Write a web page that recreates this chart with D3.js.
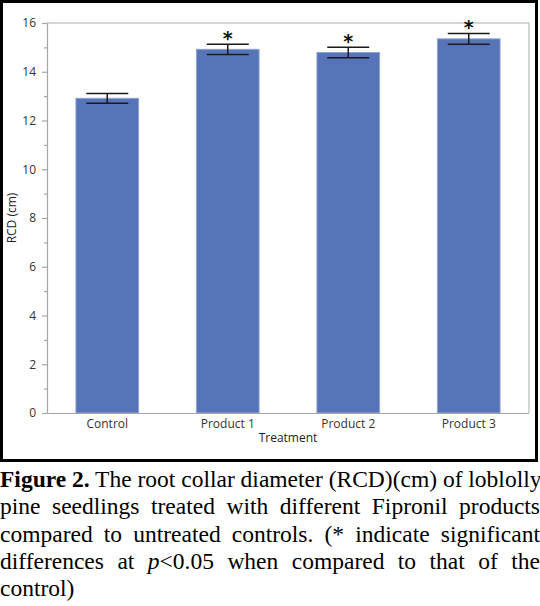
<!DOCTYPE html>
<html>
<head>
<meta charset="utf-8">
<script src="https://cdn.jsdelivr.net/npm/d3@7"></script>
<style>
  body { margin: 0; background: #fff; }
  #caption {
    position: absolute; left: 0; top: 466px; width: 540px;
    font-family: "Liberation Serif", "Times New Roman", serif;
    font-size: 23.5px; line-height: 27.3px; color: #000;
  }
  #caption .ln { text-align: justify; text-align-last: justify; white-space: nowrap; }
  #caption .ln.last { text-align-last: left; }
</style>
</head>
<body>
<div id="chart"></div>
<div id="caption">
  <div class="ln"><b>Figure 2.</b> The root collar diameter (RCD)(cm) of loblolly</div>
  <div class="ln">pine seedlings treated with different Fipronil products</div>
  <div class="ln">compared to untreated controls. (* indicate significant</div>
  <div class="ln">differences at <i>p</i>&lt;0.05 when compared to that of the</div>
  <div class="ln last">control)</div>
</div>
<script>
const categories = ["Control", "Product 1", "Product 2", "Product 3"];
const means = [12.91, 14.92, 14.79, 15.35];
const errors = [0.2, 0.21, 0.22, 0.22];
const significant = [false, true, true, true];
const yTicks = [0, 2, 4, 6, 8, 10, 12, 14, 16];
const yMinorTicks = [1, 3, 5, 7, 9, 11, 13, 15];

const w = 540;
const h = 462;
const plotLeft = 47, plotRight = 529, plotTop = 23, plotBottom = 413;
const axisFont = "'Open Sans', 'Noto Sans', sans-serif";

const svg = d3.select("#chart").append("svg")
  .attr("width", w).attr("height", h)
  .style("display", "block");

// outer frame
svg.append("rect")
  .attr("x", 1.5).attr("y", 1.5)
  .attr("width", 535).attr("height", 459)
  .attr("fill", "none").attr("stroke", "#000").attr("stroke-width", 3);

const x = d3.scaleBand().domain(categories).range([plotLeft, plotRight]).paddingInner(0.48).paddingOuter(0.24);
const y = d3.scaleLinear().domain([0, 16]).range([plotBottom, plotTop]);
const cx = i => x(categories[i]) + x.bandwidth() / 2;

// plot box (top + right)
svg.append("path")
  .attr("d", `M${plotLeft},${plotTop}H${plotRight}V${plotBottom}`)
  .attr("fill", "none").attr("stroke", "#c8c8c8").attr("stroke-width", 1.5);

// bars
svg.selectAll("rect.bar").data(means).enter().append("rect")
  .attr("class", "bar")
  .attr("x", (d, i) => x(categories[i]))
  .attr("y", d => y(d))
  .attr("width", x.bandwidth())
  .attr("height", d => y(0) - y(d))
  .attr("fill", "#5874b9")
  .attr("stroke", "#8fa3d4").attr("stroke-width", 1);

// error bars
const capHalf = 21;
const eb = svg.selectAll("g.err").data(means).enter().append("g").attr("class", "err");
eb.append("line")
  .attr("x1", (d, i) => cx(i)).attr("x2", (d, i) => cx(i))
  .attr("y1", (d, i) => y(d + errors[i]))
  .attr("y2", (d, i) => y(d - errors[i]));
eb.append("line")
  .attr("x1", (d, i) => cx(i) - capHalf).attr("x2", (d, i) => cx(i) + capHalf)
  .attr("y1", (d, i) => y(d + errors[i]))
  .attr("y2", (d, i) => y(d + errors[i]));
eb.append("line")
  .attr("x1", (d, i) => cx(i) - capHalf).attr("x2", (d, i) => cx(i) + capHalf)
  .attr("y1", (d, i) => y(d - errors[i]))
  .attr("y2", (d, i) => y(d - errors[i]));
eb.selectAll("line").attr("stroke", "#1a1a1a").attr("stroke-width", 1.5);

// significance stars
const idx = means.map((d, i) => i).filter(i => significant[i]);
svg.selectAll("text.star").data(idx).enter().append("text")
  .attr("class", "star")
  .attr("x", i => cx(i))
  .attr("y", i => y(means[i] + errors[i]) + 1)
  .attr("text-anchor", "middle")
  .attr("font-family", "'DejaVu Sans', sans-serif")
  .attr("font-size", 19)
  .attr("font-weight", "bold")
  .attr("fill", "#111")
  .text("*");

// y axis
svg.append("g")
  .attr("transform", `translate(${plotLeft},0)`)
  .call(d3.axisLeft(y).tickValues(yTicks).tickSize(5).tickPadding(6).tickSizeOuter(0));
svg.append("g")
  .attr("transform", `translate(${plotLeft},0)`)
  .call(d3.axisLeft(y).tickValues(yMinorTicks).tickSize(3).tickFormat("").tickSizeOuter(0))
  .call(g => g.select(".domain").remove());

// x axis
const xAxis = svg.append("g")
  .attr("transform", `translate(0,${plotBottom})`)
  .call(d3.axisBottom(x).tickSize(0).tickPadding(6).tickSizeOuter(0));
xAxis.select(".domain").attr("d", `M${plotLeft},0.5H${plotRight}`);

svg.selectAll(".tick line, .domain").attr("stroke", "#a6a6a6").attr("stroke-width", 1.2);
svg.selectAll(".tick text")
  .attr("font-family", axisFont).attr("font-size", 12).attr("fill", "#333");

// axis titles
svg.append("text")
  .attr("x", (plotLeft + plotRight) / 2).attr("y", 442)
  .attr("text-anchor", "middle")
  .attr("font-family", axisFont).attr("font-size", 12).attr("fill", "#222")
  .text("Treatment");
svg.append("text")
  .attr("transform", `translate(16,${(plotTop + plotBottom) / 2}) rotate(-90)`)
  .attr("text-anchor", "middle")
  .attr("font-family", axisFont).attr("font-size", 12).attr("fill", "#222")
  .text("RCD (cm)");
</script>
</body>
</html>
